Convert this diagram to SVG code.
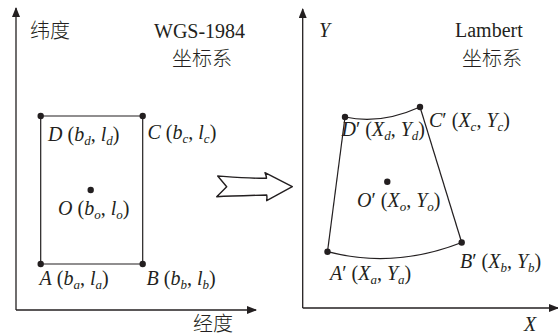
<svg xmlns="http://www.w3.org/2000/svg" width="558" height="336" viewBox="0 0 558 336">
<style>
.ln{stroke:#231f20;stroke-width:1.2;fill:none}
.ax{stroke:#231f20;stroke-width:1.3;fill:none}
.dot{fill:#231f20}
.t{font-family:"Liberation Serif","Times New Roman",serif;font-size:20px;fill:#231f20}
.cn{font-family:"Noto Sans CJK SC","Noto Serif CJK SC",sans-serif;font-size:20px;fill:#231f20;font-weight:300}
.i{font-style:italic}
.s{font-size:13px;font-style:italic}
</style>
<defs>
<marker id="ah" viewBox="0 0 10 8" refX="9" refY="4" markerWidth="10" markerHeight="8" markerUnits="userSpaceOnUse" orient="auto">
<path d="M0,0 L10,4 L0,8 Z" fill="#231f20"/>
</marker>
</defs>
<g id="axes-left">
<path class="ax" d="M16,310 L16,8" marker-end="url(#ah)"/>
<path class="ax" d="M16,310 L256,310" marker-end="url(#ah)"/>
<text class="cn" x="30" y="38">纬度</text>
<text class="cn" x="193" y="331">经度</text>
<text class="t" x="154" y="38">WGS-1984</text>
<text class="cn" x="172" y="66">坐标系</text>
</g>
<g id="axes-right">
<path class="ax" d="M302.7,308 L302.7,9" marker-end="url(#ah)"/>
<path class="ax" d="M302.7,308 L558,308" marker-end="url(#ah)"/>
<text class="t i" x="319" y="37">Y</text>
<text class="t i" x="524" y="331">X</text>
<text class="t" x="455" y="37">Lambert</text>
<text class="cn" x="462" y="66">坐标系</text>
</g>
<g id="connectors">
<path class="ln" d="M40.7,116 L142.7,116 L142.7,264 L40.7,264 Z"/>
<path class="ln" d="M345,117 Q380,125 420,107"/>
<path class="ln" d="M420,107 L461.7,242.5"/>
<path class="ln" d="M327.5,251.7 Q394,269 461.7,242.5"/>
<path class="ln" d="M345,117 L327.5,251.7"/>
<path d="M217.7,176 C232,177 250,178.5 266.5,178.3 C266.5,176 265.5,174 265,172.7 L292.3,186.7 L266.7,200.7 C267,198.5 267,196.5 266.7,195 C250,195.5 232,196 216.7,196.7 L226.7,186.7 Z" fill="#fff" stroke="#231f20" stroke-width="1.4" stroke-linejoin="round"/>
</g>
<g id="node-D">
<circle class="dot" cx="40.7" cy="116" r="3.2"/>
<text class="t" x="48" y="141"><tspan class="i">D</tspan> (<tspan class="i">b</tspan><tspan class="s" dy="4">d</tspan><tspan dy="-4">, </tspan><tspan class="i">l</tspan><tspan class="s" dy="4">d</tspan><tspan dy="-4">)</tspan></text>
</g>
<g id="node-C">
<circle class="dot" cx="142.7" cy="116" r="3.2"/>
<text class="t" x="147.5" y="138.5"><tspan class="i">C</tspan> (<tspan class="i">b</tspan><tspan class="s" dy="4">c</tspan><tspan dy="-4">, </tspan><tspan class="i">l</tspan><tspan class="s" dy="4">c</tspan><tspan dy="-4">)</tspan></text>
</g>
<g id="node-O">
<circle class="dot" cx="90.7" cy="190" r="3.2"/>
<text class="t" x="58" y="215"><tspan class="i">O</tspan> (<tspan class="i">b</tspan><tspan class="s" dy="4">o</tspan><tspan dy="-4">, </tspan><tspan class="i">l</tspan><tspan class="s" dy="4">o</tspan><tspan dy="-4">)</tspan></text>
</g>
<g id="node-A">
<circle class="dot" cx="40.7" cy="264" r="3.2"/>
<text class="t" x="39.5" y="285"><tspan class="i">A</tspan> (<tspan class="i">b</tspan><tspan class="s" dy="4">a</tspan><tspan dy="-4">, </tspan><tspan class="i">l</tspan><tspan class="s" dy="4">a</tspan><tspan dy="-4">)</tspan></text>
</g>
<g id="node-B">
<circle class="dot" cx="142.7" cy="264" r="3.2"/>
<text class="t" x="146.5" y="285"><tspan class="i">B</tspan> (<tspan class="i">b</tspan><tspan class="s" dy="4">b</tspan><tspan dy="-4">, </tspan><tspan class="i">l</tspan><tspan class="s" dy="4">b</tspan><tspan dy="-4">)</tspan></text>
</g>
<g id="node-D-prime">
<circle class="dot" cx="345" cy="117" r="3.2"/>
<text class="t" x="341.5" y="136"><tspan class="i">D</tspan>′ (<tspan class="i">X</tspan><tspan class="s" dy="4">d</tspan><tspan dy="-4">, </tspan><tspan class="i">Y</tspan><tspan class="s" dy="4">d</tspan><tspan dy="-4">)</tspan></text>
</g>
<g id="node-C-prime">
<circle class="dot" cx="420" cy="107" r="3.2"/>
<text class="t" x="429" y="127"><tspan class="i">C</tspan>′ (<tspan class="i">X</tspan><tspan class="s" dy="4">c</tspan><tspan dy="-4">, </tspan><tspan class="i">Y</tspan><tspan class="s" dy="4">c</tspan><tspan dy="-4">)</tspan></text>
</g>
<g id="node-O-prime">
<circle class="dot" cx="387.3" cy="181.7" r="3.2"/>
<text class="t" x="357" y="207"><tspan class="i">O</tspan>′ (<tspan class="i">X</tspan><tspan class="s" dy="4">o</tspan><tspan dy="-4">, </tspan><tspan class="i">Y</tspan><tspan class="s" dy="4">o</tspan><tspan dy="-4">)</tspan></text>
</g>
<g id="node-A-prime">
<circle class="dot" cx="327.5" cy="251.7" r="3.2"/>
<text class="t" x="330" y="280"><tspan class="i">A</tspan>′ (<tspan class="i">X</tspan><tspan class="s" dy="4">a</tspan><tspan dy="-4">, </tspan><tspan class="i">Y</tspan><tspan class="s" dy="4">a</tspan><tspan dy="-4">)</tspan></text>
</g>
<g id="node-B-prime">
<circle class="dot" cx="461.7" cy="242.5" r="3.2"/>
<text class="t" x="460" y="268"><tspan class="i">B</tspan>′ (<tspan class="i">X</tspan><tspan class="s" dy="4">b</tspan><tspan dy="-4">, </tspan><tspan class="i">Y</tspan><tspan class="s" dy="4">b</tspan><tspan dy="-4">)</tspan></text>
</g>
</svg>
